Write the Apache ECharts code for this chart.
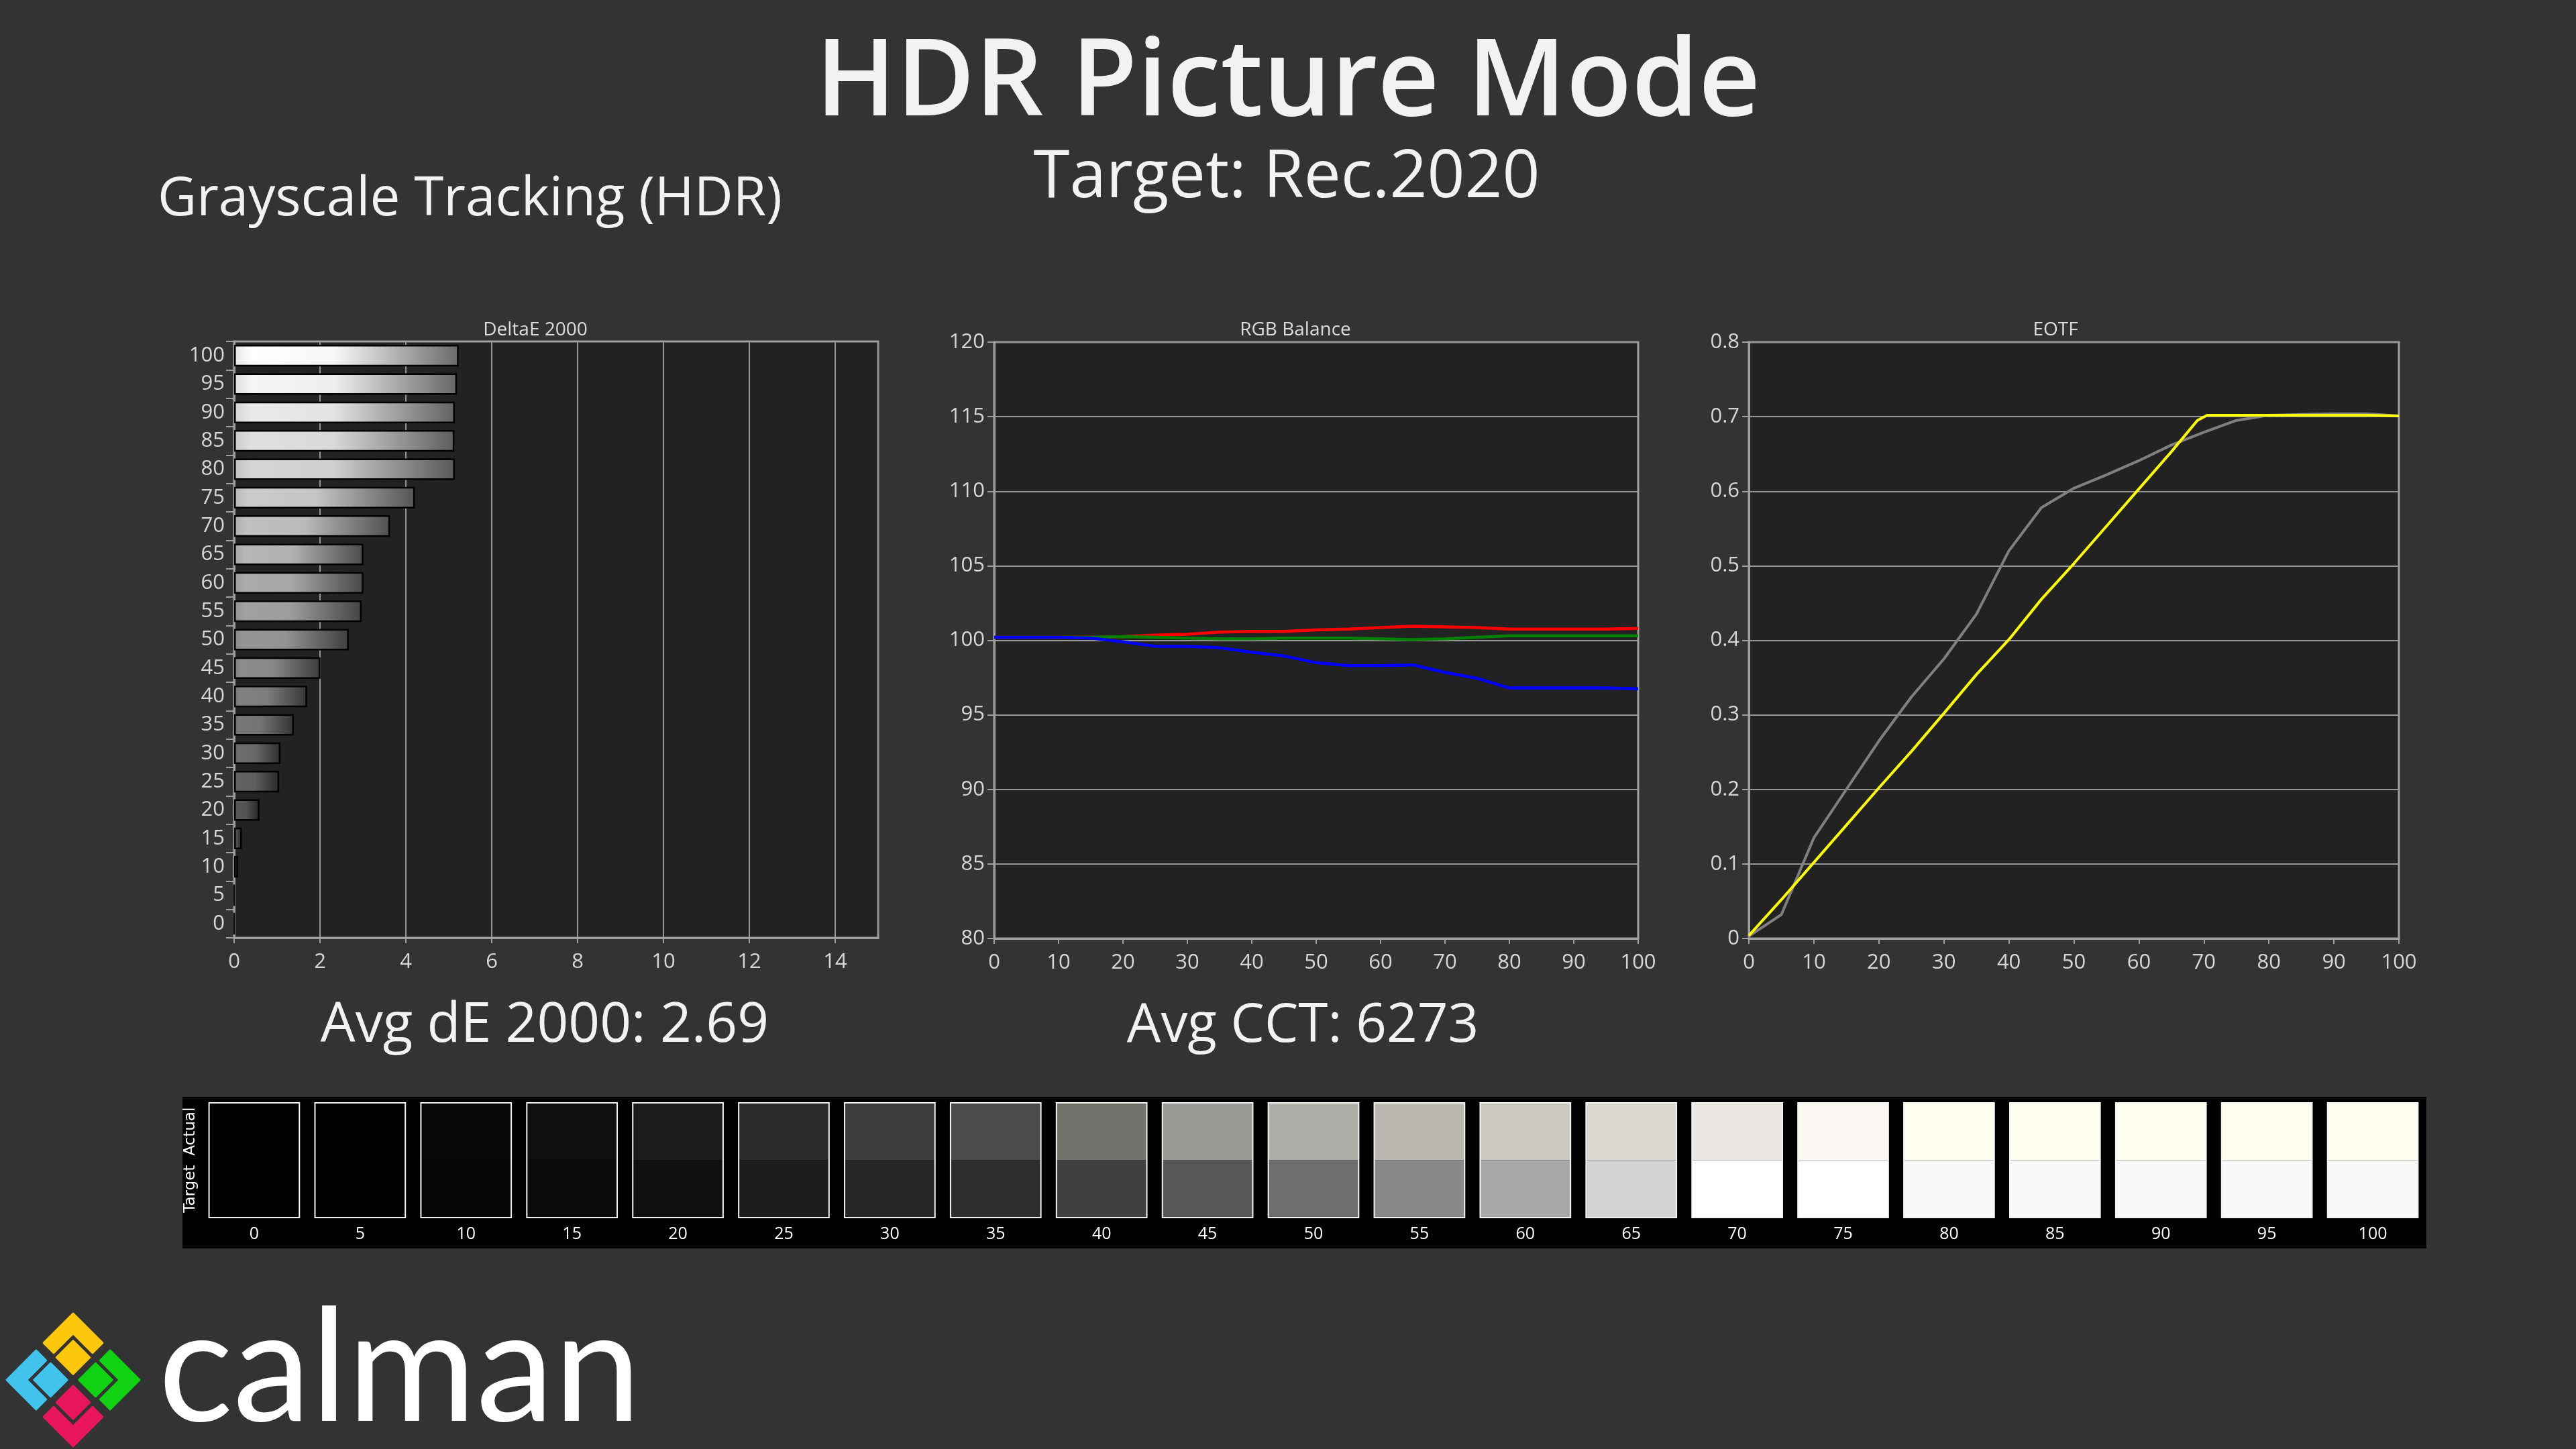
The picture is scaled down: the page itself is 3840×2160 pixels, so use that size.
<!DOCTYPE html>
<html><head><meta charset="utf-8">
<script src="https://cdn.jsdelivr.net/npm/echarts@6/dist/echarts.min.js"></script>
<style>html,body{margin:0;padding:0;background:#333333;}#c{width:3840px;height:2160px;}</style>
</head><body><div id="c"></div>
<script>
// ---------- DATA ----------
const deltaCategories = ['0','5','10','15','20','25','30','35','40','45','50','55','60','65','70','75','80','85','90','95','100'];
const deltaE = [0, 0, 0.09, 0.18, 0.59, 1.05, 1.08, 1.39, 1.70, 2.01, 2.67, 2.97, 3.01, 3.01, 3.63, 4.21, 5.14, 5.13, 5.14, 5.19, 5.23];
const deltaTicks = [0, 2, 4, 6, 8, 10, 12, 14];

const rgbX = [0,5,10,15,20,25,30,35,40,45,50,55,60,65,70,75,80,85,90,95,100];
const rgbRed   = [100.2,100.2,100.2,100.2,100.25,100.35,100.4,100.55,100.6,100.6,100.7,100.75,100.85,100.95,100.9,100.85,100.75,100.75,100.75,100.75,100.8];
const rgbGreen = [100.2,100.2,100.2,100.2,100.25,100.2,100.15,100.1,100.1,100.15,100.15,100.15,100.1,100.05,100.1,100.2,100.3,100.3,100.3,100.3,100.3];
const rgbBlue  = [100.2,100.2,100.2,100.15,99.9,99.6,99.6,99.5,99.2,98.95,98.5,98.3,98.3,98.35,97.85,97.45,96.8,96.8,96.8,96.8,96.75];

const eotfX = [0,5,10,15,20,25,30,35,40,45,50,55,60,65,70,75,80,85,90,95,100];
const eotfActual = [0.003,0.032,0.135,0.200,0.265,0.324,0.375,0.435,0.520,0.578,0.604,0.622,0.641,0.662,0.679,0.695,0.702,0.703,0.704,0.704,0.701];
const targetX = [0,5,10,15,20,25,30,35,40,45,50,55,60,65,69,70.5,75,80,85,90,95,100];
const eotfTarget = [0.004,0.052,0.102,0.152,0.202,0.251,0.302,0.354,0.401,0.455,0.503,0.553,0.603,0.653,0.695,0.702,0.702,0.702,0.702,0.702,0.702,0.701];

const swatchLevels = ['0','5','10','15','20','25','30','35','40','45','50','55','60','65','70','75','80','85','90','95','100'];
const swatchRows = ['Target','Actual'];
const actualColors = ['#000000','#000000','#080808','#0f0f0f','#1b1b1b','#2a2a2a','#3c3c3c','#4b4b49','#73726d','#9a9995','#afada8','#bab8b1','#cbc9c2','#dbd8d1','#e9e5e0','#fbf8f3','#fffcf0','#fffcf0','#fffcf0','#fffcf0','#fffcf0'];
const targetColors = ['#000000','#000000','#050505','#0b0b0b','#101010','#1d1d1d','#252525','#2e2e2e','#404040','#575757','#6e6e6e','#888888','#a8a8a8','#d3d3d3','#ffffff','#ffffff','#f9f9f9','#f9f9f9','#f9f9f9','#f9f9f9','#f9f9f9'];

const avgDE = '2.69';
const avgCCT = '6273';

// ---------- STYLE ----------
const FONT = '"Open Sans", "Noto Sans", sans-serif';
const frameColor = '#a0a0a0';
const gridLineColor = '#969696';
const labelColor = '#d6d6d6';

function axisCommon(extra) {
  return Object.assign({
    axisLine: { show: true, lineStyle: { color: frameColor, width: 3 } },
    axisTick: { show: true, inside: false, length: 10, lineStyle: { color: frameColor, width: 2 } },
    axisLabel: { color: labelColor, fontSize: 31, fontFamily: FONT, margin: 14 },
    splitLine: { show: false }
  }, extra);
}
const yLabel = (extra) => Object.assign({ color: labelColor, fontSize: 31, fontFamily: FONT, margin: 14,
  padding: [10, 0, 0, 0], backgroundColor: 'rgba(0,0,0,0)' }, extra || {});
const xLabel = (extra) => Object.assign({ color: labelColor, fontSize: 31, fontFamily: FONT, margin: 21 }, extra || {});

function barColor(idx) {
  const lvl = Number(deltaCategories[idx]);
  const base = Math.min(255, Math.round(45 + 2.1 * lvl));
  const c = (f) => { const v = Math.max(0, Math.min(255, Math.round(base * f))); return 'rgb(' + v + ',' + v + ',' + v + ')'; };
  return new echarts.graphic.LinearGradient(0, 0, 1, 0, [
    { offset: 0, color: c(0.9) },
    { offset: 0.08, color: c(1.0) },
    { offset: 0.45, color: c(0.97) },
    { offset: 1, color: c(0.42) }
  ]);
}

// ---------- LOGO (decoration) ----------
function logoShapes() {
  const cx = 109, cy = 2057, H = 70, T = 21, L = 62, s = 23.7, h = 17.5;
  const m = (p) => [cx + 0.7071 * (p[0] - p[1]), cy + 0.7071 * (p[0] + p[1])];
  const chevron = (sx, sy) => {
    const px = sx * H, py = sy * H;
    const pts = [[px, py], [px - sx * L, py], [px - sx * L, py - sy * T], [px - sx * T, py - sy * T], [px - sx * T, py - sy * L], [px, py - sy * L]];
    return pts.map(m);
  };
  const square = (sx, sy) => {
    const ox = sx * s, oy = sy * s;
    return [[ox - h, oy - h], [ox + h, oy - h], [ox + h, oy + h], [ox - h, oy + h]].map(m);
  };
  const yel = '#fdc70c', blu = '#40c4ee', grn = '#10d212', pnk = '#e8155a';
  const defs = [
    [chevron(-1, -1), yel], [chevron(1, -1), grn], [chevron(-1, 1), blu], [chevron(1, 1), pnk],
    [square(-1, -1), yel], [square(1, -1), grn], [square(-1, 1), blu], [square(1, 1), pnk]
  ];
  return defs.map(d => ({ type: 'polygon', shape: { points: d[0] }, style: { fill: d[1], stroke: d[1], lineWidth: 3, lineJoin: 'round' }, z: 10 }));
}

function txt(text, x, y, size, opts) {
  opts = opts || {};
  return {
    type: 'text', x: x, y: y, z: 20,
    style: {
      text: text, fill: opts.color || '#f2f2f2', fontSize: size, fontFamily: opts.family || FONT,
      fontWeight: opts.weight || 'normal', align: opts.align || 'center', verticalAlign: 'middle',
      textAlign: opts.align || 'center', textVerticalAlign: 'middle'
    }
  };
}

const chart = echarts.init(document.getElementById('c'), null, { renderer: 'canvas', width: 3840, height: 2160 });

const option = {
  backgroundColor: '#333333',
  animation: false,
  grid: [
    { left: 349, top: 509, width: 960, height: 889, show: true, backgroundColor: '#222222', borderColor: frameColor, borderWidth: 3 },
    { left: 1482, top: 510, width: 960, height: 889, show: true, backgroundColor: '#222222', borderColor: frameColor, borderWidth: 3 },
    { left: 2607, top: 510, width: 969, height: 889, show: true, backgroundColor: '#222222', borderColor: frameColor, borderWidth: 3 },
    { left: 300, top: 1644, width: 3316, height: 171, show: false }
  ],
  xAxis: [
    axisCommon({ gridIndex: 0, type: 'value', min: 0, max: 15, interval: 2,
      axisLabel: xLabel({ showMaxLabel: false }),
      axisTick: { show: true, length: 8, lineStyle: { color: frameColor, width: 2 } },
      splitLine: { show: true, lineStyle: { color: gridLineColor, width: 2 } } }),
    axisCommon({ gridIndex: 1, type: 'value', min: 0, max: 100, interval: 10,
      axisLabel: xLabel(),
      axisTick: { show: true, length: 8, lineStyle: { color: frameColor, width: 2 } } }),
    axisCommon({ gridIndex: 2, type: 'value', min: 0, max: 100, interval: 10,
      axisLabel: xLabel(),
      axisTick: { show: true, length: 8, lineStyle: { color: frameColor, width: 2 } } }),
    { gridIndex: 3, type: 'category', data: swatchLevels, boundaryGap: true,
      axisLine: { show: false }, axisTick: { show: false }, splitLine: { show: false },
      axisLabel: { color: '#ffffff', fontSize: 25, fontFamily: FONT, margin: 12, interval: 0 } }
  ],
  yAxis: [
    axisCommon({ gridIndex: 0, type: 'category', data: deltaCategories, boundaryGap: true,
      axisTick: { show: true, interval: 0, length: 12, lineStyle: { color: frameColor, width: 2 } },
      axisLabel: yLabel({ interval: 0 }) }),
    axisCommon({ gridIndex: 1, type: 'value', min: 80, max: 120, interval: 5,
      axisTick: { show: true, length: 10, lineStyle: { color: frameColor, width: 2 } },
      axisLabel: yLabel(),
      splitLine: { show: true, lineStyle: { color: gridLineColor, width: 2 } } }),
    axisCommon({ gridIndex: 2, type: 'value', min: 0, max: 0.8, interval: 0.1,
      axisTick: { show: true, length: 10, lineStyle: { color: frameColor, width: 2 } },
      axisLabel: yLabel({ formatter: v => (Math.abs(v) < 1e-9 ? '0' : (Math.round(v * 10) / 10).toFixed(1)) }),
      splitLine: { show: true, lineStyle: { color: gridLineColor, width: 2 } } }),
    { gridIndex: 3, type: 'category', data: swatchRows, boundaryGap: true,
      axisLine: { show: false }, axisTick: { show: false }, splitLine: { show: false },
      axisLabel: { color: '#ffffff', fontSize: 23, fontFamily: '"DejaVu Sans", sans-serif', rotate: 90, margin: 4, interval: 0, hideOverlap: false } }
  ],
  series: [
    { type: 'bar', xAxisIndex: 0, yAxisIndex: 0, barWidth: '76%', z: 3,
      data: deltaE.map((v, i) => ({ value: v, itemStyle: { color: barColor(i) } })),
      itemStyle: { borderColor: '#000000', borderWidth: 2.5 } },
    { type: 'line', xAxisIndex: 1, yAxisIndex: 1, symbol: 'none', z: 3,
      data: rgbX.map((x, i) => [x, rgbRed[i]]), lineStyle: { color: '#ff0000', width: 4.5 } },
    { type: 'line', xAxisIndex: 1, yAxisIndex: 1, symbol: 'none', z: 4,
      data: rgbX.map((x, i) => [x, rgbGreen[i]]), lineStyle: { color: '#008000', width: 4.5 } },
    { type: 'line', xAxisIndex: 1, yAxisIndex: 1, symbol: 'none', z: 5,
      data: rgbX.map((x, i) => [x, rgbBlue[i]]), lineStyle: { color: '#0000ff', width: 4.5 } },
    { type: 'line', xAxisIndex: 2, yAxisIndex: 2, symbol: 'none', z: 3,
      data: eotfX.map((x, i) => [x, eotfActual[i]]), lineStyle: { color: '#808080', width: 4 } },
    { type: 'line', xAxisIndex: 2, yAxisIndex: 2, symbol: 'none', z: 4,
      data: targetX.map((x, i) => [x, eotfTarget[i]]), lineStyle: { color: '#ffff00', width: 4 } },
    { type: 'custom', xAxisIndex: 3, yAxisIndex: 3, z: 5,
      data: swatchLevels.map((l, i) => [i]),
      renderItem: function (params, api) {
        const i = api.value(0);
        const top = api.coord([i, 1]);
        const bot = api.coord([i, 0]);
        const sz = api.size([1, 1]);
        const w = sz[0] * 0.853, h = sz[1];
        const x = top[0] - w / 2;
        return { type: 'group', children: [
          { type: 'rect', shape: { x: x, y: top[1] - h / 2, width: w, height: h }, style: { fill: actualColors[i] } },
          { type: 'rect', shape: { x: x, y: bot[1] - h / 2, width: w, height: h }, style: { fill: targetColors[i] } },
          { type: 'rect', shape: { x: x, y: top[1] - h / 2, width: w, height: 2 * h }, style: { fill: 'none', stroke: '#f2f2f2', lineWidth: 2 } }
        ] };
      } }
  ],
  graphic: [
    { type: 'rect', z: 0, shape: { x: 272, y: 1635, width: 3345, height: 226 }, style: { fill: '#000000' } },
    txt('HDR Picture Mode', 1920, 126, 160, { weight: 600 }),
    txt('Target: Rec.2020', 1918, 266, 98),
    txt('Grayscale Tracking (HDR)', 235, 298, 80, { align: 'left' }),
    txt('DeltaE 2000', 798, 492, 28, { color: '#dcdcdc' }),
    txt('RGB Balance', 1931, 492, 28, { color: '#dcdcdc' }),
    txt('EOTF', 3064, 492, 28, { color: '#dcdcdc' }),
    txt('Avg dE 2000: ' + avgDE, 812, 1530, 82),
    txt('Avg CCT: ' + avgCCT, 1942, 1530, 80),
    txt('calman', 236, 2043, 233, { align: 'left', family: 'Lato, "Open Sans", sans-serif', color: '#ffffff' })
  ].concat(logoShapes())
};
chart.setOption(option);
</script>
</body></html>
